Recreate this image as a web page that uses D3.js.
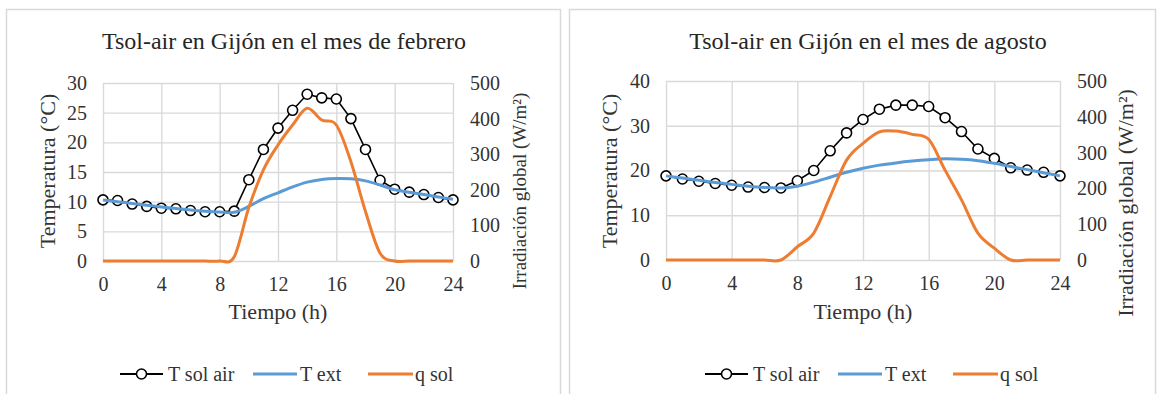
<!DOCTYPE html>
<html>
<head>
<meta charset="utf-8">
<script src="https://cdn.jsdelivr.net/npm/d3@7"></script>
<style>
  body { margin: 0; background: #fff; }
  text { font-family: "Liberation Serif", "Times New Roman", serif; fill: #333; }
</style>
</head>
<body>
<div id="chart"></div>
<script>
(function(){

// hours of the day (x categories)
var hours = [0,1,2,3,4,5,6,7,8,9,10,11,12,13,14,15,16,17,18,19,20,21,22,23,24];
var hourTicks = [0,4,8,12,16,20,24];
var irrTicks = [0,100,200,300,400,500];

// febrero
var febTicks = [0,5,10,15,20,25,30];
var febTsolAir = [10.3,10.2,9.6,9.2,8.9,8.8,8.5,8.3,8.3,8.4,13.7,18.8,22.4,25.4,28.1,27.5,27.3,24.0,18.8,13.6,12.1,11.6,11.2,10.7,10.3];
var febText = [10.3,10.0,9.7,9.4,9.1,8.85,8.6,8.4,8.25,8.2,9.2,10.5,11.5,12.5,13.3,13.75,13.9,13.85,13.5,12.8,12.0,11.6,11.2,10.8,10.4];
var febQsol = [0,0,0,0,0,0,0,0,0,12,150,256,326,382,429,396,382,279,139,22,0,0,0,0,0];

// agosto
var augTicks = [0,10,20,30,40];
var augTsolAir = [18.8,18.1,17.6,17.1,16.7,16.3,16.2,16.1,17.7,20.0,24.4,28.4,31.4,33.7,34.6,34.6,34.3,31.8,28.7,24.8,22.7,20.6,20.1,19.6,18.8];
var augText = [18.8,18.3,17.8,17.3,16.9,16.5,16.2,16.1,16.5,17.4,18.5,19.6,20.5,21.2,21.7,22.1,22.4,22.6,22.5,22.2,21.6,20.9,20.2,19.5,18.8];
var augQsol = [0,0,0,0,0,0,0,0,37,75,177,279,326,358,360,351,337,251,168,75,33,0,0,0,0];

var W = 1159, H = 394;
var blue = "#5b9bd5", orange = "#ed7d31", grid = "#d9d9d9";

var svg = d3.select("#chart").append("svg")
    .attr("width", W).attr("height", H);

svg.append("rect").attr("width", W).attr("height", H).attr("fill", "#fff");

function panel(o) {
  // outer frame
  svg.append("rect")
    .attr("x", o.frame[0]).attr("y", o.frame[1])
    .attr("width", o.frame[2]).attr("height", o.frame[3])
    .attr("fill", "none").attr("stroke", grid).attr("stroke-width", 1.5);

  var x = d3.scaleLinear().domain([0, 24]).range([o.left, o.right]);
  var y = d3.scaleLinear().domain([0, o.tMax]).range([o.bottom, o.top]);
  var y2 = d3.scaleLinear().domain([0, 500]).range([o.bottom, o.top]);
  var w = o.right - o.left, h = o.bottom - o.top;

  svg.append("text")
    .attr("x", o.titleX).attr("y", 49)
    .attr("text-anchor", "middle")
    .style("font-size", "24px").style("fill", "#262626")
    .text(o.title);

  var gx = svg.append("g")
    .attr("transform", "translate(0," + o.bottom + ")")
    .call(d3.axisBottom(x).tickValues(hourTicks).tickSize(-h).tickPadding(16));
  var gy = svg.append("g")
    .attr("transform", "translate(" + o.left + ",0)")
    .call(d3.axisLeft(y).tickValues(o.ticks).tickSize(-w).tickPadding(16));
  var gy2 = svg.append("g")
    .attr("transform", "translate(" + o.right + ",0)")
    .call(d3.axisRight(y2).tickValues(irrTicks).tickSize(0).tickPadding(17));

  [gx, gy, gy2].forEach(function(g) {
    g.select(".domain").remove();
    g.selectAll("line").attr("stroke", grid).attr("stroke-width", 1.4);
    g.selectAll("text").style("font-size", "20px")
      .style("font-family", "'Liberation Serif', 'Times New Roman', serif")
      .attr("fill", "#333");
  });

  // series
  var line = d3.line().x(function(d, i) { return x(hours[i]); });
  svg.append("path")
    .attr("d", line.y(function(d) { return y(d); })(o.tsol))
    .attr("fill", "none").attr("stroke", "#000").attr("stroke-width", 1.6);
  svg.selectAll(null).data(o.tsol).enter()
    .append("circle")
    .attr("cx", function(d, i) { return x(hours[i]); })
    .attr("cy", function(d) { return y(d); })
    .attr("r", 5)
    .attr("fill", "#fff").attr("stroke", "#000").attr("stroke-width", 1.6);

  var smooth = d3.line().curve(d3.curveCardinal.tension(0))
    .x(function(d, i) { return x(hours[i]); });
  svg.append("path")
    .attr("d", smooth.y(function(d) { return y(d); })(o.text))
    .attr("fill", "none").attr("stroke", blue).attr("stroke-width", 3);
  svg.append("path")
    .attr("d", smooth.y(function(d) { return y2(d); })(o.qsol))
    .attr("fill", "none").attr("stroke", orange).attr("stroke-width", 3);

  // axis titles
  svg.append("text")
    .attr("x", (o.left + o.right) / 2).attr("y", 319)
    .attr("text-anchor", "middle").style("font-size", "22px")
    .text("Tiempo (h)");
  svg.append("text")
    .attr("transform", "translate(" + o.yTitleX + ",171) rotate(-90)")
    .attr("text-anchor", "middle").style("font-size", "22px")
    .text("Temperatura (°C)");
  svg.append("text")
    .attr("transform", "translate(" + o.y2TitleX + "," + o.y2TitleY + ") rotate(-90)")
    .attr("text-anchor", "middle").style("font-size", o.y2Size + "px")
    .text("Irradiación global (W/m²)");

  // legend
  var ly = 374, L = o.legend;
  svg.append("line").attr("x1", L[0]).attr("x2", L[0] + 43).attr("y1", ly).attr("y2", ly)
    .attr("stroke", "#000").attr("stroke-width", 2);
  svg.append("circle").attr("cx", L[0] + 21.5).attr("cy", ly).attr("r", 5)
    .attr("fill", "#fff").attr("stroke", "#000").attr("stroke-width", 1.6);
  svg.append("text").attr("x", L[0] + 48).attr("y", ly + 7).style("font-size", "20px").text("T sol air");
  svg.append("line").attr("x1", L[1]).attr("x2", L[1] + 44).attr("y1", ly).attr("y2", ly)
    .attr("stroke", blue).attr("stroke-width", 3);
  svg.append("text").attr("x", L[1] + 47).attr("y", ly + 7).style("font-size", "20px").text("T ext");
  svg.append("line").attr("x1", L[2]).attr("x2", L[2] + 45).attr("y1", ly).attr("y2", ly)
    .attr("stroke", orange).attr("stroke-width", 3);
  svg.append("text").attr("x", L[2] + 47).attr("y", ly + 7).style("font-size", "20px").text("q sol");
}

panel({
  frame: [6.5, 9.5, 554, 400],
  title: "Tsol-air en Gijón en el mes de febrero", titleX: 284,
  left: 103, right: 453, top: 83, bottom: 261,
  tMax: 30, ticks: febTicks,
  tsol: febTsolAir, text: febText, qsol: febQsol,
  yTitleX: 55, y2TitleX: 526, y2TitleY: 191, y2Size: 19,
  legend: [120, 253, 368]
});

panel({
  frame: [569.5, 9.5, 586, 400],
  title: "Tsol-air en Gijón en el mes de agosto", titleX: 868,
  left: 666, right: 1060, top: 81, bottom: 260,
  tMax: 40, ticks: augTicks,
  tsol: augTsolAir, text: augText, qsol: augQsol,
  yTitleX: 617, y2TitleX: 1133, y2TitleY: 203, y2Size: 22,
  legend: [705, 838, 953]
});

})()
</script>
</body>
</html>
